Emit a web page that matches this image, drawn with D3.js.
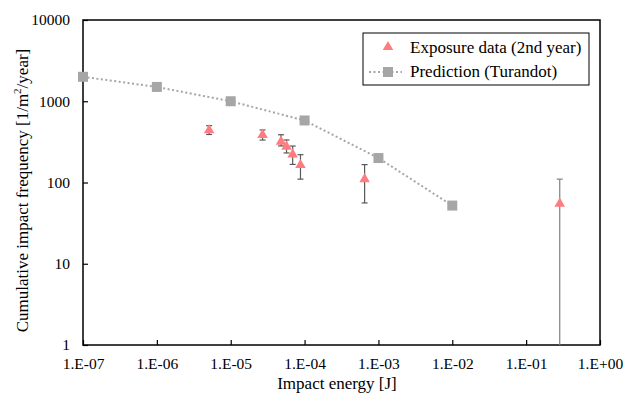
<!DOCTYPE html>
<html>
<head>
<meta charset="utf-8">
<script src="https://cdn.jsdelivr.net/npm/d3@7"></script>
<style>
  body { margin: 0; background: #fff; }
</style>
</head>
<body>
<div id="chart"></div>
<script>
// prediction (Turandot)
const predEnergy = [1e-7, 1e-6, 1e-5, 1e-4, 1e-3, 1e-2];
const predFreq = [2000, 1500, 1000, 580, 200, 52];

// exposure data (2nd year) with error bars
const expEnergy = [5.1e-6, 2.7e-5, 4.8e-5, 5.7e-5, 6.9e-5, 8.8e-5, 6.5e-4, 0.285];
const expFreq = [440, 385, 318, 276, 222, 164, 110, 55];
const expLow = [390, 333, 282, 231, 167, 110, 56, 1];
const expHigh = [500, 443, 387, 334, 281, 220, 166, 110];

const xTicks = [1e-7, 1e-6, 1e-5, 1e-4, 1e-3, 1e-2, 1e-1, 1];
const xTickLabels = ['1.E-07', '1.E-06', '1.E-05', '1.E-04', '1.E-03', '1.E-02', '1.E-01', '1.E+00'];
const yTicks = [1, 10, 100, 1000, 10000];

const W = 637, H = 395;
const m = { left: 83, right: 37, top: 20, bottom: 50 };
const FONT = '"Liberation Serif"';
const x = d3.scaleLog().domain([1e-7, 1]).range([m.left, W - m.right]);
const y = d3.scaleLog().domain([1, 10000]).range([H - m.bottom, m.top]);

const svg = d3.select('#chart').append('svg').attr('width', W).attr('height', H);

const pink = '#ff7c80';
const grey = '#a6a6a6';

// axes with inward ticks
svg.append('g')
  .attr('class', 'tick-g')
  .attr('transform', `translate(0,${H - m.bottom})`)
  .call(d3.axisBottom(x).tickValues(xTicks).tickSize(-5).tickPadding(13)
    .tickFormat((d, i) => xTickLabels[i]))
  .call(g => g.select('.domain').remove())
  .call(g => g.selectAll('line').attr('stroke', '#000').attr('stroke-width', 1.2));

svg.append('g')
  .attr('class', 'tick-g')
  .attr('transform', `translate(${m.left},0)`)
  .call(d3.axisLeft(y).tickValues(yTicks).tickSize(-5).tickPadding(13)
    .tickFormat(d3.format('d')))
  .call(g => g.select('.domain').remove())
  .call(g => g.selectAll('line').attr('stroke', '#000').attr('stroke-width', 1.2));

// frame
svg.append('rect')
  .attr('x', m.left).attr('y', m.top)
  .attr('width', W - m.right - m.left).attr('height', H - m.bottom - m.top)
  .attr('fill', 'none').attr('stroke', '#000').attr('stroke-width', 1.5);

// prediction line
const pred = predEnergy.map((e, i) => [e, predFreq[i]]);
svg.append('path')
  .datum(pred)
  .attr('d', d3.line().x(d => x(d[0])).y(d => y(d[1])))
  .attr('fill', 'none').attr('stroke', grey).attr('stroke-width', 2)
  .attr('stroke-dasharray', '2,2.5');

svg.selectAll('rect.pred')
  .data(pred).enter().append('rect')
  .attr('class', 'pred')
  .attr('x', d => x(d[0]) - 5).attr('y', d => y(d[1]) - 5)
  .attr('width', 10).attr('height', 10).attr('fill', grey);

// error bars
const exp = expEnergy.map((e, i) => ({ e, f: expFreq[i], lo: expLow[i], hi: expHigh[i] }));
const eb = svg.append('g').attr('stroke-width', 1.2);
exp.forEach((d, i) => {
  const cx = x(d.e);
  const col = i === exp.length - 1 ? '#808080' : '#595959';
  eb.append('line').attr('x1', cx).attr('x2', cx)
    .attr('y1', y(d.lo)).attr('y2', y(d.hi)).attr('stroke', col);
  eb.append('line').attr('x1', cx - 3).attr('x2', cx + 3)
    .attr('y1', y(d.hi)).attr('y2', y(d.hi)).attr('stroke', col);
  if (d.lo > 1) {
    eb.append('line').attr('x1', cx - 3).attr('x2', cx + 3)
      .attr('y1', y(d.lo)).attr('y2', y(d.lo)).attr('stroke', col);
  }
});

const tri = d3.symbol().type(d3.symbolTriangle).size(48);
svg.selectAll('path.exp')
  .data(exp).enter().append('path')
  .attr('class', 'exp')
  .attr('d', tri)
  .attr('transform', d => `translate(${x(d.e)},${y(d.f)})`)
  .attr('fill', pink);

// legend
const lg = svg.append('g');
lg.append('rect').attr('x', 363).attr('y', 33).attr('width', 226).attr('height', 52)
  .attr('fill', '#fff').attr('stroke', '#000').attr('stroke-width', 1);
lg.append('path').attr('d', tri).attr('transform', 'translate(388,47)').attr('fill', pink);
lg.append('text').attr('x', 410).attr('y', 53).text('Exposure data (2nd year)');
lg.append('line').attr('x1', 369).attr('x2', 402).attr('y1', 72).attr('y2', 72)
  .attr('stroke', grey).attr('stroke-width', 2).attr('stroke-dasharray', '2,2.5');
lg.append('rect').attr('x', 383).attr('y', 67).attr('width', 10).attr('height', 10).attr('fill', grey);
lg.append('text').attr('x', 410).attr('y', 77).text('Prediction (Turandot)');

// axis titles
svg.append('text').attr('x', 337).attr('y', 389)
  .attr('text-anchor', 'middle').text('Impact energy [J]');

const yt = svg.append('text')
  .attr('transform', 'translate(28,190.5) rotate(-90)')
  .attr('text-anchor', 'middle');
yt.append('tspan').text('Cumulative impact frequency [1/m');
yt.append('tspan').attr('class', 'sup').attr('dy', -7).text('2');
yt.append('tspan').attr('dy', 7).text('/year]');

svg.selectAll('text')
  .style('font-family', FONT)
  .style('font-size', '17px')
  .attr('fill', '#000');
svg.selectAll('.tick-g text').style('font-size', '15.5px');
yt.select('.sup').style('font-size', '11px');
</script>
</body>
</html>
